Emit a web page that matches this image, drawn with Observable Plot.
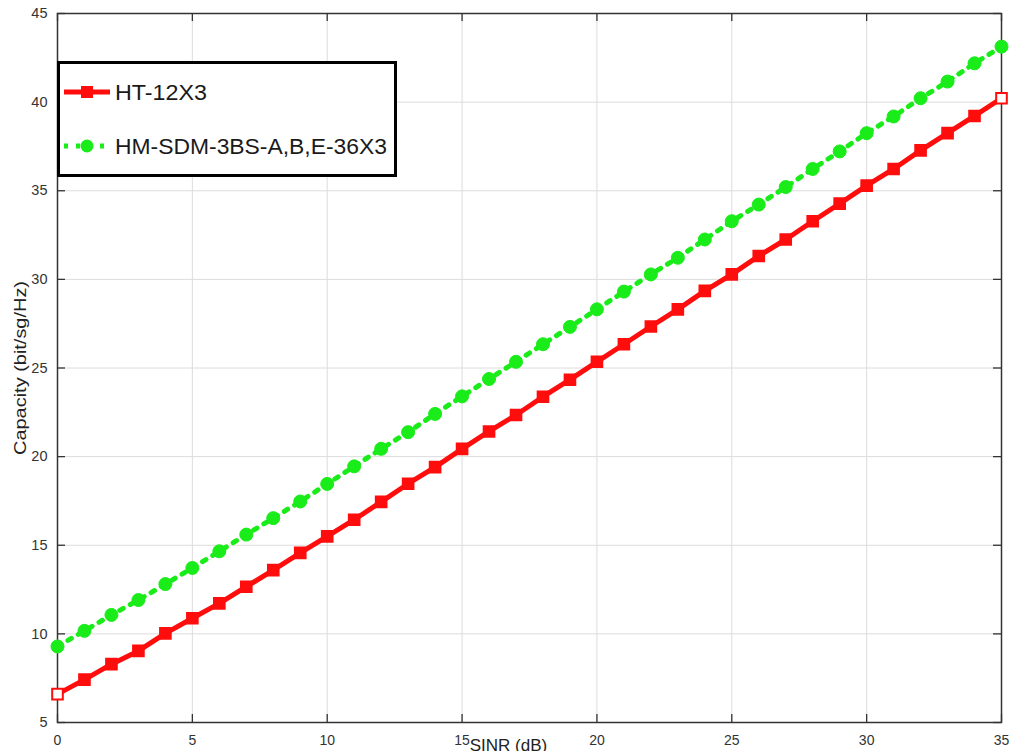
<!DOCTYPE html>
<html>
<head>
<meta charset="utf-8">
<script src="https://cdn.jsdelivr.net/npm/d3@7"></script>
<script src="https://cdn.jsdelivr.net/npm/@observablehq/plot@0.6"></script>
<style>
  body { margin: 0; background: #fff; font-family: "Liberation Sans", Arial, sans-serif; }
  #wrap { position: relative; width: 1014px; height: 751px; overflow: hidden; background: #fff; }
  #legend { position: absolute; left: 57px; top: 61px; width: 334px; height: 110px; border: 3px solid #000; background: #fff; }
  #legend svg { display: block; }
</style>
</head>
<body>
<div id="wrap">
  <div id="chart"></div>
  <div id="legend"></div>
</div>
<script>
// ---- data ----
const sinr = [0,1,2,3,4,5,6,7,8,9,10,11,12,13,14,15,16,17,18,19,20,21,22,23,24,25,26,27,28,29,30,31,32,33,34,35];
const htCapacity = [6.60, 7.42, 8.29, 9.04, 10.03, 10.88, 11.72, 12.66, 13.60, 14.57, 15.50, 16.44, 17.45, 18.47, 19.41, 20.44, 21.42, 22.35, 23.38, 24.34, 25.35, 26.34, 27.34, 28.31, 29.35, 30.28, 31.32, 32.25, 33.28, 34.27, 35.29, 36.23, 37.28, 38.25, 39.22, 40.22];
const hmCapacity = [9.29, 10.17, 11.07, 11.91, 12.81, 13.72, 14.66, 15.60, 16.53, 17.47, 18.46, 19.45, 20.44, 21.38, 22.41, 23.40, 24.38, 25.35, 26.34, 27.32, 28.31, 29.31, 30.28, 31.22, 32.25, 33.28, 34.22, 35.21, 36.23, 37.22, 38.25, 39.19, 40.22, 41.16, 42.19, 43.13];
const seriesNames = ["HT-12X3", "HM-SDM-3BS-A,B,E-36X3"];
const xTicks = [0, 5, 10, 15, 20, 25, 30, 35];
const yTicks = [5, 10, 15, 20, 25, 30, 35, 40, 45];
const xLabel = "SINR (dB)";
const yLabel = "Capacity (bit/sg/Hz)";

const RED = "#ff0d0d";
const GREEN = "#19ec19";

const ht = sinr.map((x, i) => ({x, y: htCapacity[i], end: i === 0 || i === sinr.length - 1}));
const hm = sinr.map((x, i) => ({x, y: hmCapacity[i]}));

const W = 1014, H = 751;
const mL = 57, mR = 13, mT = 13, mB = 29;
const innerH = H - mT - mB;
const innerW = W - mL - mR;
const tickLen = 8;

const chart = Plot.plot({
  width: W,
  height: H,
  marginLeft: mL,
  marginRight: mR,
  marginTop: mT,
  marginBottom: mB,
  style: { fontFamily: "Liberation Sans, Arial, sans-serif", background: "#fff", overflow: "visible" },
  x: { domain: [0, 35] },
  y: { domain: [5, 45] },
  marks: [
    Plot.gridX(xTicks, { stroke: "#dcdcdc", strokeOpacity: 1, strokeWidth: 1 }),
    Plot.gridY(yTicks, { stroke: "#dcdcdc", strokeOpacity: 1, strokeWidth: 1 }),
    // inward tick marks (bottom/top/left/right)
    Plot.tickX(xTicks, { x: d => d, insetTop: innerH - tickLen, stroke: "#333", strokeWidth: 1.3 }),
    Plot.tickX(xTicks, { x: d => d, insetBottom: innerH - tickLen, stroke: "#333", strokeWidth: 1.3 }),
    Plot.tickY(yTicks, { y: d => d, insetRight: innerW - tickLen, stroke: "#333", strokeWidth: 1.3 }),
    Plot.tickY(yTicks, { y: d => d, insetLeft: innerW - tickLen, stroke: "#333", strokeWidth: 1.3 }),
    Plot.axisX({ ticks: xTicks, tickSize: 0, tickPadding: 13, fontSize: 14, color: "#333", label: null }),
    Plot.axisY({ ticks: yTicks, tickSize: 0, tickPadding: 10, fontSize: 14.5, color: "#333", label: null }),
    Plot.frame({ stroke: "#333", strokeWidth: 1.5 }),
    // HT-12X3
    Plot.line(ht, { x: "x", y: "y", stroke: RED, strokeWidth: 5, strokeLinejoin: "round" }),
    Plot.dot(ht, { x: "x", y: "y", symbol: "square", r: 6, stroke: RED, strokeWidth: 2, fill: d => d.end ? "white" : RED }),
    // HM-SDM
    Plot.line(hm, { x: "x", y: "y", stroke: GREEN, strokeWidth: 5, strokeDasharray: "4,8" }),
    Plot.dot(hm, { x: "x", y: "y", r: 6.5, fill: GREEN, stroke: GREEN, strokeWidth: 1 }),
    // axis titles
    Plot.text([xLabel], { frameAnchor: "bottom", text: d => d, dx: -21, dy: 23, fontSize: 17, fill: "#222", textAnchor: "middle", lineAnchor: "middle" }),
    Plot.text([yLabel], { frameAnchor: "left", text: d => d, dx: -37, rotate: -90, fontSize: 17, fill: "#222", textAnchor: "middle", lineAnchor: "middle", className: "ylab" })
  ]
});
document.getElementById("chart").appendChild(chart);
// vertically stretched y-label as in the reference
d3.select(chart).selectAll(".ylab text").attr("textLength", 174).attr("lengthAdjust", "spacingAndGlyphs");

// ---- legend ----
const lg = d3.select("#legend").append("svg").attr("width", 334).attr("height", 110);
const rows = [
  { name: seriesNames[0], y: 28, color: RED, kind: "square", len: 92 },
  { name: seriesNames[1], y: 82, color: GREEN, kind: "circle", len: 272 }
];
rows.forEach(r => {
  if (r.kind === "square") {
    lg.append("line").attr("x1", 4).attr("x2", 50).attr("y1", r.y).attr("y2", r.y)
      .attr("stroke", r.color).attr("stroke-width", 5);
    lg.append("rect").attr("x", 27 - 5).attr("y", r.y - 5).attr("width", 10).attr("height", 10)
      .attr("fill", r.color).attr("stroke", r.color).attr("stroke-width", 2);
  } else {
    lg.append("line").attr("x1", 4).attr("x2", 50).attr("y1", r.y).attr("y2", r.y)
      .attr("stroke", r.color).attr("stroke-width", 5).attr("stroke-dasharray", "4,8");
    lg.append("circle").attr("cx", 27).attr("cy", r.y).attr("r", 6.5).attr("fill", r.color);
  }
  lg.append("text").attr("x", 55).attr("y", r.y).attr("dy", "0.36em")
    .attr("font-size", 22).attr("fill", "#1a1a1a")
    .attr("font-family", "Liberation Sans, Arial, sans-serif")
    .attr("textLength", r.len).attr("lengthAdjust", "spacingAndGlyphs")
    .text(r.name);
});
</script>
</body>
</html>
